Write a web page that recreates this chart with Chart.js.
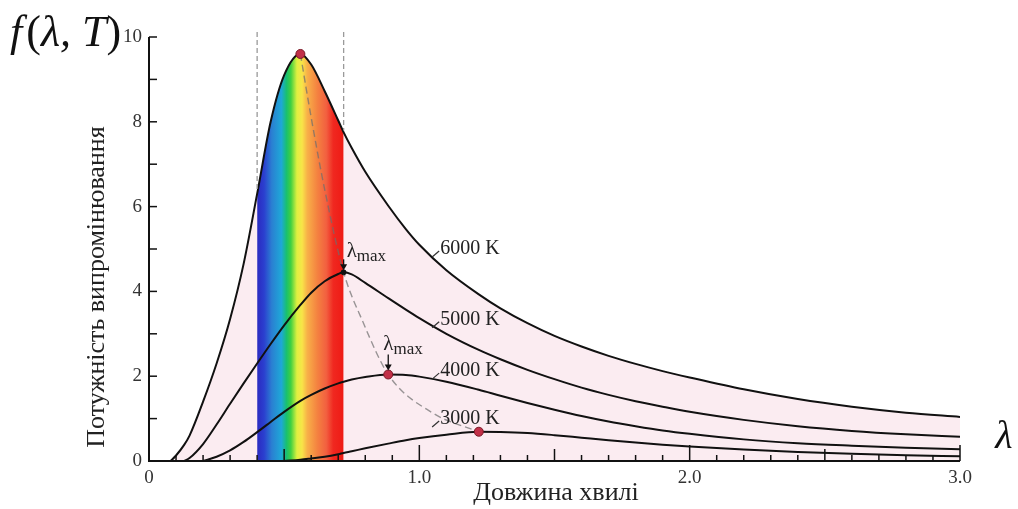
<!DOCTYPE html>
<html>
<head>
<meta charset="utf-8">
<script src="https://cdn.jsdelivr.net/npm/chart.js@4.4.0/dist/chart.umd.min.js"></script>
<style>
html, body { margin: 0; padding: 0; background: #fff; }
canvas { display: block; }
</style>
</head>
<body>
<canvas id="planck" width="1018" height="509"></canvas>
<script>
// довжина хвилі (мкм) і значення кривих
const lambda = [0.05, 0.08, 0.1, 0.13, 0.15, 0.2, 0.25, 0.3, 0.35, 0.4, 0.45, 0.5, 0.56, 0.6, 0.65, 0.7, 0.72, 0.75, 0.8, 0.885, 0.95, 1.0, 1.1, 1.22, 1.3, 1.4, 1.5, 1.6, 1.7, 1.8, 1.9, 2.0, 2.2, 2.4, 2.6, 2.8, 3.0];
const t6000 = [null, 0, 0.13, 0.38, 0.6, 1.4, 2.3, 3.35, 4.65, 6.3, 8.0, 9.1, 9.6, 9.35, 8.72, 8.03, 7.75, 7.38, 6.82, 6.02, 5.47, 5.1, 4.5, 3.93, 3.6, 3.25, 2.95, 2.7, 2.48, 2.29, 2.12, 1.97, 1.69, 1.46, 1.28, 1.14, 1.04];
const t5000 = [null, null, null, 0, 0.07, 0.4, 0.86, 1.35, 1.83, 2.3, 2.76, 3.2, 3.68, 3.97, 4.24, 4.41, 4.45, 4.4, 4.2, 3.84, 3.57, 3.37, 3.0, 2.62, 2.4, 2.15, 1.93, 1.73, 1.56, 1.41, 1.28, 1.16, 0.97, 0.82, 0.71, 0.63, 0.57];
const t4000 = [null, null, null, null, null, 0, 0.1, 0.25, 0.45, 0.68, 0.92, 1.16, 1.42, 1.56, 1.71, 1.83, 1.87, 1.92, 1.98, 2.04, 2.03, 1.99, 1.87, 1.68, 1.54, 1.37, 1.21, 1.06, 0.93, 0.82, 0.72, 0.64, 0.51, 0.42, 0.36, 0.31, 0.28];
const t3000 = [null, null, null, null, null, null, null, null, null, null, null, 0, 0.03, 0.06, 0.1, 0.16, 0.19, 0.23, 0.3, 0.41, 0.49, 0.54, 0.62, 0.69, 0.685, 0.66, 0.61, 0.55, 0.49, 0.435, 0.385, 0.34, 0.27, 0.215, 0.17, 0.135, 0.11];
const tempLabels = ['6000 K', '5000 K', '4000 K', '3000 K'];
const peakX = [0.56, 0.72, 0.885, 1.22];
const peakY = [9.6, 4.45, 2.04, 0.69];
const wienX = [0.56, 0.6, 0.65, 0.72, 0.79, 0.885, 1.05, 1.22];
const wienY = [9.6, 8.1, 6.4, 4.45, 3.3, 2.04, 1.13, 0.69];
const bandEdges = [0.4, 0.72];
const xTickValues = [0, 1, 2, 3];
const xTickLabels = ['0', '1.0', '2.0', '3.0'];
const yTickValues = [0, 2, 4, 6, 8, 10];
const yTickLabels = ['0', '2', '4', '6', '8', '10'];

const pts = ys => lambda.map((x, i) => ({ x: x, y: ys[i] }));
const serif = '"Liberation Serif", "DejaVu Serif", serif';

function spectrumFill(context) {
    const { ctx, chartArea, scales } = context.chart;
    if (!chartArea) return null;
    const x0 = scales.x.getPixelForValue(bandEdges[0]);
    const x1 = scales.x.getPixelForValue(bandEdges[1]);
    const g = ctx.createLinearGradient(x0, 0, x1, 0);
    g.addColorStop(0.00, '#2a2ac0');
    g.addColorStop(0.08, '#2b3fcf');
    g.addColorStop(0.17, '#2a80d2');
    g.addColorStop(0.28, '#1ea8d8');
    g.addColorStop(0.34, '#19c070');
    g.addColorStop(0.39, '#40d040');
    g.addColorStop(0.46, '#dff040');
    g.addColorStop(0.52, '#f8e448');
    g.addColorStop(0.58, '#f8b048');
    g.addColorStop(0.70, '#f48040');
    g.addColorStop(0.80, '#f26040');
    g.addColorStop(0.88, '#f02820');
    g.addColorStop(1.00, '#ee1a14');
    return g;
}

const lineStyle = {
    borderColor: '#111',
    borderWidth: 2,
    pointRadius: 0,
    fill: false,
    cubicInterpolationMode: 'monotone',
    order: 1
};

const decor = {
    id: 'decor',
    afterDatasetsDraw(chart) {
        const { ctx, chartArea, scales } = chart;
        const xs = scales.x, ys = scales.y;
        ctx.save();

        // межі видимого спектра
        ctx.strokeStyle = '#9a9a9a';
        ctx.lineWidth = 1.3;
        ctx.setLineDash([5, 3]);
        bandEdges.forEach(edge => {
            const i = lambda.indexOf(edge);
            const px = xs.getPixelForValue(edge);
            ctx.beginPath();
            ctx.moveTo(px, chartArea.top - 5);
            ctx.lineTo(px, ys.getPixelForValue(t6000[i]) - 2);
            ctx.stroke();
        });
        ctx.setLineDash([]);

        // осі
        ctx.strokeStyle = '#111';
        ctx.lineWidth = 2;
        ctx.beginPath();
        ctx.moveTo(chartArea.left, chartArea.top);
        ctx.lineTo(chartArea.left, chartArea.bottom);
        ctx.lineTo(chartArea.right, chartArea.bottom);
        ctx.stroke();

        // внутрішні поділки
        ctx.lineWidth = 1.5;
        xs.ticks.forEach(t => {
            const v = t.value;
            if (v <= 0) return;
            const tenth = Math.round(v * 10);
            let len = 6;
            if (tenth % 10 === 0) len = 16;
            else if (tenth % 5 === 0) len = 12;
            const px = xs.getPixelForValue(v);
            ctx.beginPath();
            ctx.moveTo(px, chartArea.bottom);
            ctx.lineTo(px, chartArea.bottom - len);
            ctx.stroke();
        });
        ys.ticks.forEach(t => {
            if (t.value <= 0) return;
            const py = ys.getPixelForValue(t.value);
            ctx.beginPath();
            ctx.moveTo(chartArea.left, py);
            ctx.lineTo(chartArea.left + 8, py);
            ctx.stroke();
        });

        // підписи температур
        const labelY = [5.0, 3.33, 2.12, 0.99];
        ctx.fillStyle = '#222';
        ctx.strokeStyle = '#333';
        ctx.lineWidth = 1.2;
        ctx.font = '20px ' + serif;
        ctx.textAlign = 'left';
        ctx.textBaseline = 'middle';
        tempLabels.forEach((txt, i) => {
            const lx = xs.getPixelForValue(1.077);
            const ly = ys.getPixelForValue(labelY[i]);
            ctx.beginPath();
            ctx.moveTo(lx - 8, ly + 8);
            ctx.lineTo(lx - 1, ly + 2);
            ctx.stroke();
            ctx.fillText(txt, lx, ly);
        });

        // λmax зі стрілками
        const lmax = (px, py) => {
            ctx.fillStyle = '#222';
            ctx.font = '21px ' + serif;
            ctx.textBaseline = 'middle';
            ctx.fillText('λ', px, py);
            const w = ctx.measureText('λ').width;
            ctx.font = '17px ' + serif;
            ctx.fillText('max', px + w, py + 5);
        };
        const arrow = (x, y0, y1) => {
            ctx.strokeStyle = '#111';
            ctx.lineWidth = 1.3;
            ctx.beginPath();
            ctx.moveTo(x, y0);
            ctx.lineTo(x, y1 - 4);
            ctx.stroke();
            ctx.fillStyle = '#111';
            ctx.beginPath();
            ctx.moveTo(x - 3.5, y1 - 6);
            ctx.lineTo(x + 3.5, y1 - 6);
            ctx.lineTo(x, y1);
            ctx.closePath();
            ctx.fill();
        };
        const p5x = xs.getPixelForValue(peakX[1]), p5y = ys.getPixelForValue(peakY[1]);
        lmax(p5x + 3, p5y - 21);
        arrow(p5x, p5y - 13, p5y - 2);
        const p4x = xs.getPixelForValue(peakX[2]), p4y = ys.getPixelForValue(peakY[2]);
        lmax(p4x - 5, p4y - 30);
        arrow(p4x, p4y - 20, p4y - 4);

        // заголовки осей
        ctx.fillStyle = '#222';
        ctx.font = '26px ' + serif;
        ctx.textAlign = 'center';
        ctx.textBaseline = 'middle';
        ctx.fillText('Довжина хвилі', 556, 493);
        ctx.save();
        ctx.translate(97, 287);
        ctx.rotate(-Math.PI / 2);
        ctx.fillText('Потужність випромінювання', 0, 0);
        ctx.restore();

        // f(λ, T)
        ctx.textAlign = 'left';
        ctx.fillStyle = '#111';
        let fx = 10;
        const parts = [['f', 'italic '], ['(', ''], ['λ,', 'italic '], [' ', ''], ['T', 'italic '], [')', '']];
        parts.forEach(([s, st]) => {
            ctx.font = st + '44px ' + serif;
            ctx.fillText(s, fx, 34);
            fx += ctx.measureText(s).width + (s === 'f' ? 4 : 0);
        });
        ctx.font = 'italic 40px ' + serif;
        ctx.textAlign = 'center';
        ctx.fillText('λ', 1004, 437);

        ctx.restore();
    }
};

new Chart(document.getElementById('planck'), {
    type: 'line',
    data: {
        datasets: [
            {
                data: pts(t6000),
                borderWidth: 0,
                pointRadius: 0,
                fill: 'origin',
                backgroundColor: 'rgba(250, 228, 236, 0.72)',
                cubicInterpolationMode: 'monotone',
                order: 6
            },
            {
                data: pts(t6000).filter(p => p.x >= bandEdges[0] && p.x <= bandEdges[1]),
                borderWidth: 0,
                pointRadius: 0,
                fill: 'origin',
                backgroundColor: spectrumFill,
                cubicInterpolationMode: 'monotone',
                order: 5
            },
            {
                data: wienX.map((x, i) => ({ x: x, y: wienY[i] })),
                borderColor: 'rgba(110, 110, 110, 0.7)',
                borderWidth: 1.4,
                borderDash: [7, 4],
                pointRadius: 0,
                fill: false,
                cubicInterpolationMode: 'monotone',
                order: 2
            },
            Object.assign({ label: tempLabels[0], data: pts(t6000) }, lineStyle),
            Object.assign({ label: tempLabels[1], data: pts(t5000) }, lineStyle),
            Object.assign({ label: tempLabels[2], data: pts(t4000) }, lineStyle),
            Object.assign({ label: tempLabels[3], data: pts(t3000) }, lineStyle),
            {
                data: peakX.map((x, i) => ({ x: x, y: peakY[i] })),
                showLine: false,
                pointRadius: [4.5, 2.5, 4.5, 4.5],
                pointBackgroundColor: ['#c23048', '#111', '#c23048', '#c23048'],
                pointBorderColor: ['#7a1a28', '#111', '#7a1a28', '#7a1a28'],
                pointBorderWidth: 1,
                order: 0
            }
        ]
    },
    options: {
        responsive: false,
        animation: false,
        events: [],
        layout: { padding: { top: 37, right: 58, left: 0, bottom: 0 } },
        plugins: { legend: { display: false }, tooltip: { enabled: false } },
        scales: {
            x: {
                type: 'linear',
                min: 0,
                max: 3,
                grid: { display: false, drawTicks: false },
                border: { display: false },
                afterFit: scale => { scale.height = 48; },
                ticks: {
                    stepSize: 0.1,
                    autoSkip: false,
                    maxRotation: 0,
                    padding: 6,
                    color: '#333',
                    font: { family: serif, size: 19 },
                    callback: value => {
                        const i = xTickValues.findIndex(v => Math.abs(v - value) < 1e-6);
                        return i >= 0 ? xTickLabels[i] : '';
                    }
                }
            },
            y: {
                min: 0,
                max: 10,
                grid: { display: false, drawTicks: false },
                border: { display: false },
                afterFit: scale => { scale.width = 149; },
                ticks: {
                    stepSize: 1,
                    autoSkip: false,
                    padding: 7,
                    color: '#333',
                    font: { family: serif, size: 19 },
                    callback: value => {
                        const i = yTickValues.findIndex(v => Math.abs(v - value) < 1e-6);
                        return i >= 0 ? yTickLabels[i] : '';
                    }
                }
            }
        }
    },
    plugins: [decor]
});
</script>
</body>
</html>
